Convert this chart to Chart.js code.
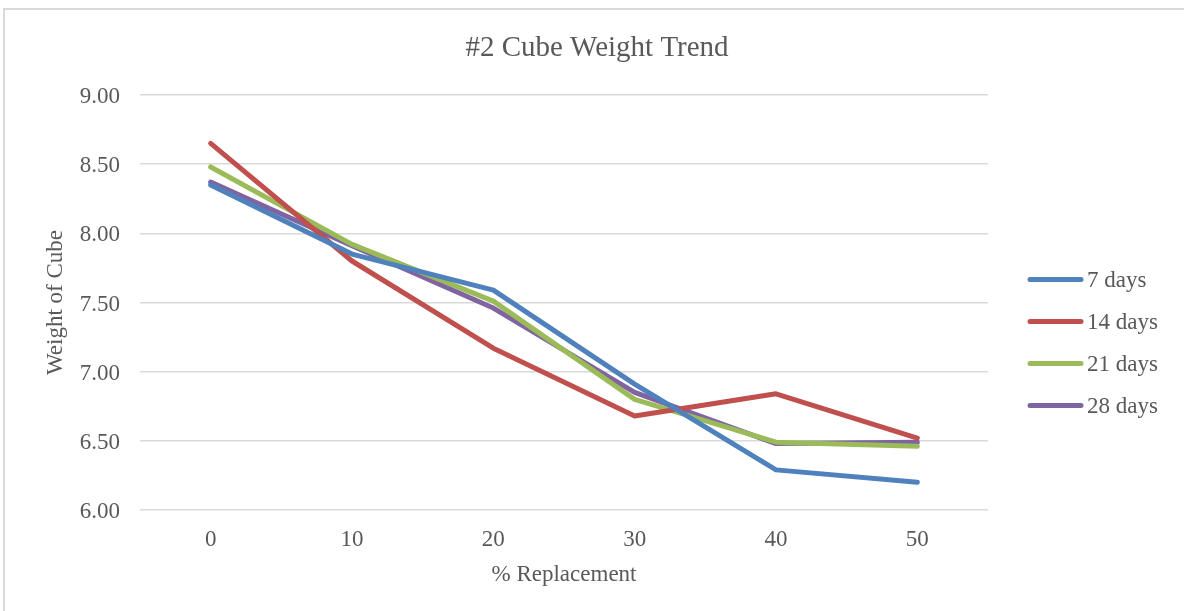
<!DOCTYPE html>
<html>
<head>
<meta charset="utf-8">
<title>#2 Cube Weight Trend</title>
<script src="https://cdn.jsdelivr.net/npm/chart.js@4/dist/chart.umd.min.js"></script>
<style>
  html, body { margin: 0; padding: 0; background: #ffffff; }
  #wrap { position: relative; width: 1184px; height: 611px; }
</style>
</head>
<body>
<div id="wrap"><canvas id="chart" width="1184" height="611"></canvas></div>
<script>
// Cube weight at each replacement percentage, by curing age
const replacement = ['0', '10', '20', '30', '40', '50'];
const days7  = [8.35, 7.85, 7.59, 6.91, 6.29, 6.20];
const days14 = [8.65, 7.80, 7.17, 6.68, 6.84, 6.52];
const days21 = [8.48, 7.92, 7.51, 6.80, 6.49, 6.46];
const days28 = [8.37, 7.91, 7.46, 6.85, 6.48, 6.49];
const seriesNames = ['7 days', '14 days', '21 days', '28 days'];
const seriesColors = ['#4F81BD', '#C0504D', '#9BBB59', '#8064A2'];

const SERIF = "'Liberation Serif', 'Times New Roman', serif";
const TEXT = '#595959';
const GRID = '#d9d9d9';

// Outer frame of the chart object
const framePlugin = {
  id: 'frame',
  beforeDraw(chart) {
    const ctx = chart.ctx;
    ctx.save();
    ctx.strokeStyle = GRID;
    ctx.lineWidth = 2;
    ctx.beginPath();
    ctx.moveTo(4, chart.height);
    ctx.lineTo(4, 9);
    ctx.lineTo(chart.width, 9);
    ctx.stroke();
    ctx.restore();
  }
};

// Legend to the right of the plot, one row per series
const sideLegend = {
  id: 'sideLegend',
  afterDraw(chart) {
    const ctx = chart.ctx;
    const area = chart.chartArea;
    const x0 = area.right + 40;
    const len = 55;
    const rowGap = 42;
    const n = chart.data.datasets.length;
    const midY = (area.top + area.bottom) / 2 + 40;
    const firstY = midY - rowGap * (n - 1) / 2;
    ctx.save();
    ctx.font = '23px ' + SERIF;
    ctx.textBaseline = 'middle';
    ctx.textAlign = 'left';
    chart.data.datasets.forEach((ds, i) => {
      const y = firstY + i * rowGap;
      ctx.strokeStyle = ds.borderColor;
      ctx.lineWidth = 5;
      ctx.lineCap = 'round';
      ctx.beginPath();
      ctx.moveTo(x0 + 2, y);
      ctx.lineTo(x0 + len - 2, y);
      ctx.stroke();
      ctx.fillStyle = TEXT;
      ctx.fillText(ds.label, x0 + len + 4, y + 1);
    });
    ctx.restore();
  }
};

const seriesData = [days7, days14, days21, days28];

new Chart(document.getElementById('chart'), {
  type: 'line',
  data: {
    labels: replacement,
    datasets: seriesData.map((vals, i) => ({
      label: seriesNames[i],
      data: vals,
      borderColor: seriesColors[i],
      backgroundColor: seriesColors[i],
      borderWidth: 5,
      borderCapStyle: 'round',
      borderJoinStyle: 'round',
      pointRadius: 0,
      pointHoverRadius: 0,
      tension: 0,
      fill: false,
      yAxisID: 'y'
    }))
  },
  options: {
    responsive: false,
    animation: false,
    events: [],
    layout: { padding: { left: 10, right: 0, top: 20, bottom: 0 } },
    plugins: {
      legend: { display: false },
      tooltip: { enabled: false },
      title: {
        display: true,
        text: '#2 Cube Weight Trend',
        color: TEXT,
        font: { family: SERIF, size: 29, weight: 'normal' },
        padding: { top: 10.5, bottom: 29.7 }
      }
    },
    scales: {
      x: {
        type: 'category',
        offset: true,
        grid: { display: false, drawTicks: false },
        border: { display: false },
        ticks: { color: TEXT, font: { family: SERIF, size: 23 }, padding: 16, maxRotation: 0 },
        title: {
          display: true,
          text: '% Replacement',
          color: TEXT,
          font: { family: SERIF, size: 23 },
          padding: { top: 0, bottom: 22 }
        },
        afterFit(scale) { scale.height = 101; }
      },
      y: {
        position: 'left',
        min: 6,
        max: 9,
        ticks: {
          stepSize: 0.5,
          color: TEXT,
          font: { family: SERIF, size: 23 },
          padding: 20,
          labelOffset: 2,
          callback: (v) => Number(v).toFixed(2)
        },
        grid: { color: GRID, lineWidth: 1.5, drawTicks: false },
        border: { display: false },
        title: {
          display: true,
          text: 'Weight of Cube',
          color: TEXT,
          font: { family: SERIF, size: 23 },
          padding: { top: 32, bottom: 0 }
        },
        afterFit(scale) { scale.width = 130; }
      },
      side: {
        position: 'right',
        display: true,
        grid: { display: false, drawTicks: false },
        border: { display: false },
        ticks: { display: false },
        afterFit(scale) { scale.width = 196; }
      }
    }
  },
  plugins: [framePlugin, sideLegend]
});
</script>
</body>
</html>
